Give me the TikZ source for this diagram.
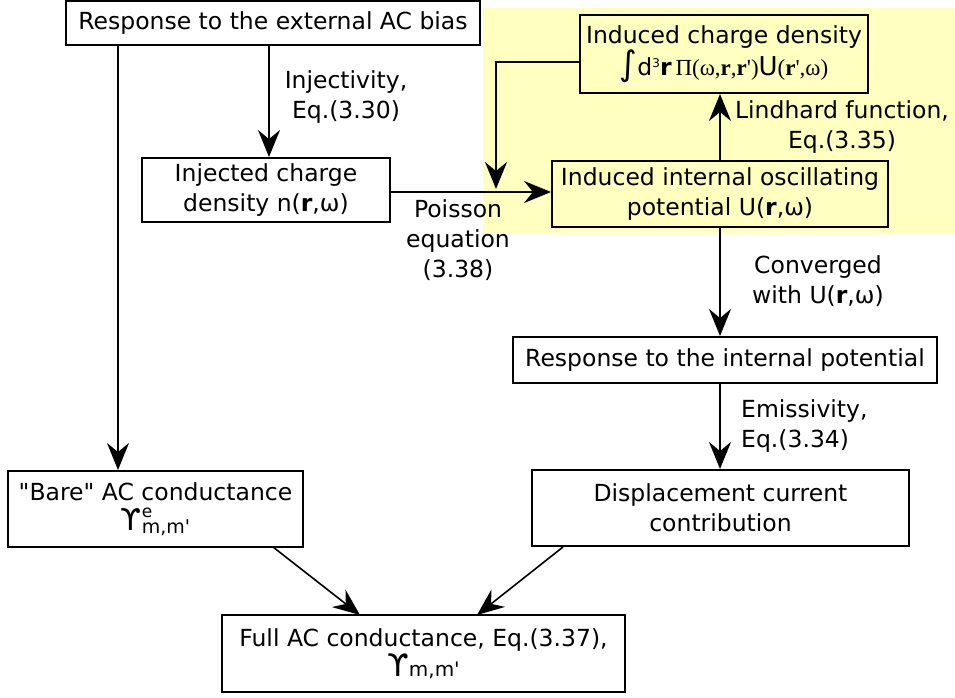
\documentclass[tikz,border=0pt]{standalone}
\usepackage{fontspec}
\setmainfont{DejaVu Sans}
\newfontfamily\serifg{Liberation Serif}
\usetikzlibrary{arrows.meta}
\definecolor{hl}{RGB}{255,255,192}
\newcommand{\fs}{\fontsize{23.5}{30}\selectfont}
\newcommand{\qs}{\textquotesingle}
\begin{document}
\begin{tikzpicture}[x=1pt,y=-1pt,
  box/.style={draw, line width=2pt, fill=white, align=center, inner sep=0pt, font=\fs},
  hbox/.style={box, fill=hl},
  arr/.style={line width=1.6pt, -{Stealth[length=27pt,width=22pt,inset=9pt]}},
  lbl/.style={align=center, inner sep=0pt, font=\fs}]
\useasboundingbox (0,0) rectangle (955,698);
\fill[hl] (483,8) rectangle (955,233);

\coordinate (xL) at (118,0);
\coordinate (xI) at (269,0);
\coordinate (xU) at (720,0);
\coordinate (yP) at (0,192);
\coordinate (yF) at (0,62);
\coordinate (fb) at (496,189);

\node[box, minimum width=414pt, minimum height=44pt] (b1) at (273,23) {Response to the external AC bias};
\node[box, minimum width=248pt, minimum height=64pt] (b2) at (266,190) {Injected charge\\density n(\textbf{r},ω)};
\node[hbox, minimum width=288pt, minimum height=78pt] (b4) at (724,54) {Induced charge density\\{\fontsize{34}{34}\selectfont ∫}d\raisebox{8pt}{\fontsize{12}{12}\selectfont 3}\textbf{r}\,{\serifg\fontsize{23}{23}\selectfont Π(ω,\textbf{r},\textbf{r}\qs)}{\fontsize{26}{26}\selectfont U}{\serifg\fontsize{23}{23}\selectfont(\textbf{r}\qs,ω)}};
\node[hbox, minimum width=336pt, minimum height=66pt] (b5) at (720,194) {Induced internal oscillating\\potential U(\textbf{r},ω)};
\node[box, minimum width=424pt, minimum height=46pt] (b6) at (725,360) {Response to the internal potential};
\node[box, minimum width=377pt, minimum height=76pt] (b7) at (720.5,508) {Displacement current\\contribution};
\node[box, minimum width=295pt, minimum height=76pt] (b8) at (155.5,509) {\textquotedbl Bare\textquotedbl{} AC conductance\\{\fontsize{30}{30}\selectfont ϒ}\rlap{\raisebox{13pt}{\fontsize{17}{17}\selectfont e}}\raisebox{-3pt}{\fontsize{19}{19}\selectfont m,m\qs}};
\node[box, minimum width=403pt, minimum height=77pt] (b9) at (423.5,653.5) {Full AC conductance, Eq.(3.37),\\{\fontsize{31}{31}\selectfont ϒ}{\fontsize{20}{20}\selectfont m,m\qs}};

\node[lbl] (lI) at (346,97) {Injectivity,\\Eq.(3.30)};
\node[lbl] (lP) at (458,240) {Poisson\\equation\\(3.38)};
\node[lbl] (lL) at (842,127) {Lindhard function,\\Eq.(3.35)};
\node[lbl] (lC) at (818,281) {Converged\\with U(\textbf{r},ω)};
\node[lbl, align=left, anchor=west] (lE) at (741,426) {Emissivity,\\Eq.(3.34)};

\draw[arr] (b1.south -| xL) -- (b8.north -| xL);
\draw[arr] (b1.south -| xI) -- (b2.north -| xI);
\draw[arr] (b2.east |- yP) -- (b5.west |- yP);
\draw[arr] (b4.west |- yF) -| (fb);
\draw[arr] (b5.north -| xU) -- (b4.south -| xU);
\draw[arr] (b5.south -| xU) -- (b6.north -| xU);
\draw[arr] (b6.south -| xU) -- (b7.north -| xU);
\coordinate (s8) at (273,547);
\coordinate (t8) at (360,615);
\coordinate (s7) at (563,547);
\coordinate (t7) at (477,615);
\draw[arr] (s8) -- (t8);
\draw[arr] (s7) -- (t7);
\end{tikzpicture}
\end{document}
